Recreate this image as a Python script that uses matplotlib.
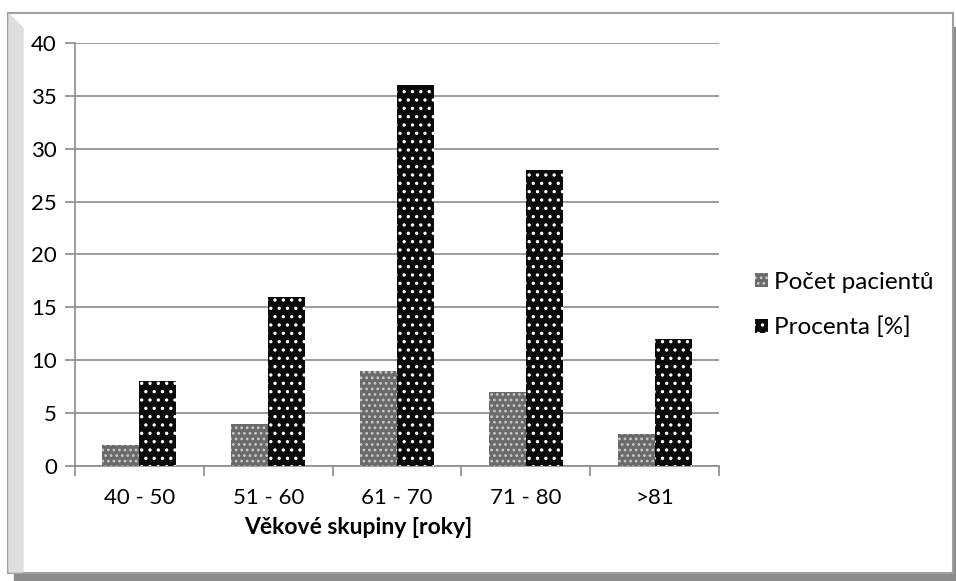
import numpy as np
import matplotlib.pyplot as plt
from matplotlib.patches import Rectangle, Polygon

categories = ['40 - 50', '51 - 60', '61 - 70', '71 - 80', '>81']
pocet = [2, 4, 9, 7, 3]
procenta = [8, 16, 36, 28, 12]
series_names = ['Počet pacientů', 'Procenta [%]']

plt.rcParams['font.family'] = ['Lato', 'DejaVu Sans']
plt.rcParams['hatch.color'] = 'white'
plt.rcParams['hatch.linewidth'] = 1.2

fig = plt.figure(figsize=(9.56, 5.81), dpi=100)
W, H = 956, 581

def fx(px):
    return px / W

def fy(py):
    return 1 - py / H

# chart frame with shadow
fig.patches.append(Rectangle((fx(14), fy(581)), fx(956) - fx(14), fy(27) - fy(581),
                             transform=fig.transFigure, color='#8c8c8c', zorder=0))
fig.patches.append(Rectangle((fx(8), fy(573)), fx(945), fy(13) - fy(573),
                             transform=fig.transFigure, facecolor='white',
                             edgecolor='#a0a0a0', lw=1.5, zorder=1))
fig.patches.append(Polygon([(fx(9), fy(14)), (fx(23), fy(28)), (fx(23), fy(572)), (fx(9), fy(572))],
                           closed=True, transform=fig.transFigure, color='#dedede', zorder=1))

ax = fig.add_axes([fx(75), fy(466), fx(719) - fx(75), fy(43) - fy(466)])
ax.set_zorder(2)
ax.patch.set_alpha(0)

x = np.arange(len(categories))
w = 0.287
gray = '#6a6a6a'
ax.bar(x - w / 2, pocet, w, color=gray, hatch='...', edgecolor='#c8c8c8', lw=0, zorder=3)
ax.bar(x + w / 2, procenta, w, color='#0a0a0a', hatch='..', edgecolor='white', lw=0, zorder=3)

ax.set_xlim(-0.5, len(categories) - 0.5)
ax.set_ylim(0, 40)
ax.set_yticks(range(0, 41, 5))
ax.yaxis.grid(True, color='#8c8c8c', lw=1.2)
ax.set_axisbelow(True)
ax.set_xticks(x)
ax.set_xticklabels(categories)
ax.set_xticks(np.arange(-0.5, len(categories)), minor=True)
ax.tick_params(axis='x', which='major', length=0, pad=16)
ax.tick_params(axis='x', which='minor', length=7, color='#8c8c8c', width=1.2)
ax.tick_params(axis='y', length=7, color='#8c8c8c', width=1.2, pad=6)
ax.tick_params(labelsize=16)
for s in ['top', 'right']:
    ax.spines[s].set_visible(False)
for s in ['left', 'bottom']:
    ax.spines[s].set_color('#8c8c8c')
    ax.spines[s].set_linewidth(1.2)

ax.set_xlabel('Věkové skupiny [roky]', fontsize=16.5, fontweight='bold')
ax.xaxis.set_label_coords(0.44, -0.12)

handles = [Rectangle((0, 0), 1, 1, facecolor=gray, hatch='...', edgecolor='#c8c8c8', lw=0),
           Rectangle((0, 0), 1, 1, facecolor='#0a0a0a', hatch='..', edgecolor='white', lw=0)]
fig.legend(handles, series_names, loc='center left', bbox_to_anchor=(fx(745), fy(305)),
           frameon=False, fontsize=17.5, handlelength=0.55, handleheight=0.55,
           handletextpad=0.25, labelspacing=1.0, borderaxespad=0)

fig.savefig('out.png', dpi=100)
